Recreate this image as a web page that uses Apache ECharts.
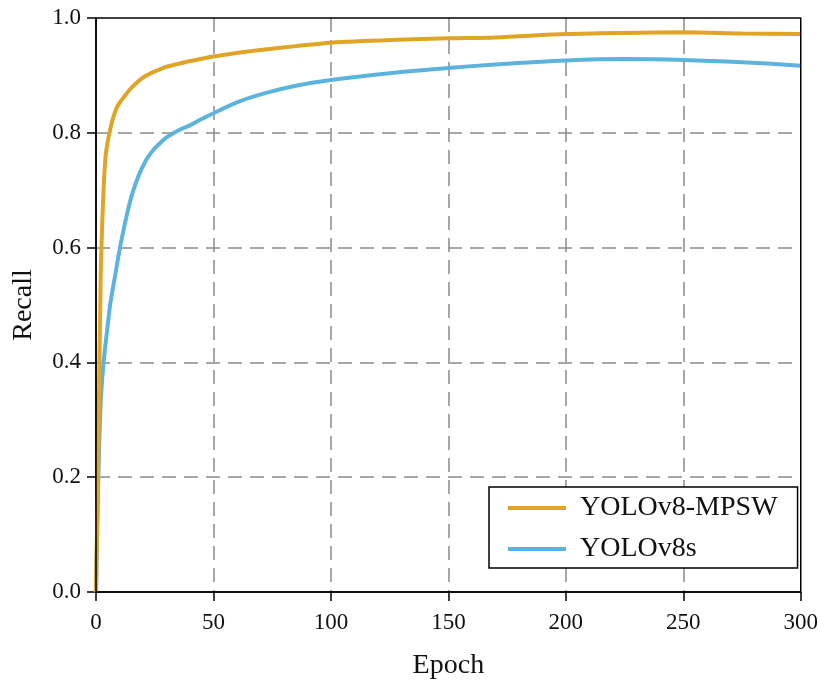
<!DOCTYPE html>
<html>
<head>
<meta charset="utf-8">
<script src="https://cdn.jsdelivr.net/npm/echarts@6/dist/echarts.min.js"></script>
<style>
html,body{margin:0;padding:0;background:#fff;}
#chart{width:821px;height:686px;}
</style>
</head>
<body>
<div id="chart"></div>
<script>
const epochs = [0,1,2,3,4,5,6,7,8,9,10,12,15,18,20,22,25,28,30,35,40,45,50,60,72,85,100,128,150,170,200,225,250,275,300];
const mpsw   = [0,0.25,0.55,0.68,0.755,0.785,0.805,0.822,0.835,0.845,0.852,0.863,0.878,0.890,0.896,0.901,0.907,0.912,0.915,0.920,0.925,0.929,0.933,0.939,0.945,0.951,0.957,0.962,0.9646,0.966,0.972,0.974,0.975,0.973,0.972];
const v8s    = [0,0.2,0.33,0.39,0.43,0.465,0.5,0.525,0.548,0.572,0.595,0.636,0.688,0.724,0.742,0.757,0.773,0.785,0.792,0.804,0.813,0.824,0.834,0.853,0.869,0.882,0.892,0.905,0.913,0.919,0.926,0.9286,0.927,0.923,0.917];
const seriesNames = ['YOLOv8-MPSW','YOLOv8s'];
const colors = ['#E0A526','#5CB4DE'];

const FONT = "'Liberation Serif','Times New Roman',serif";
const chart = echarts.init(document.getElementById('chart'));
const mk = (arr) => epochs.map((e,i)=>[e,arr[i]]);
chart.setOption({
  animation:false,
  backgroundColor:'#fff',
  grid:{left:96,top:18,right:14,bottom:94,show:true,borderColor:'#000',borderWidth:1.5,backgroundColor:'transparent',z:5},
  legend:{
    orient:'vertical', left:489, top:487,
    data:seriesNames,
    icon:'rect', itemWidth:58, itemHeight:4, itemGap:13,
    padding:[7,20,5,19],
    borderColor:'#000', borderWidth:1.5, backgroundColor:'#fff',
    textStyle:{fontFamily:FONT,fontSize:28,color:'#111',padding:[0,0,0,9]}
  },
  xAxis:{
    type:'value',min:0,max:300,interval:50,
    name:'Epoch',nameLocation:'middle',nameGap:60,
    nameTextStyle:{fontFamily:FONT,fontSize:28,color:'#111'},
    axisLine:{lineStyle:{color:'#000',width:1.5}},
    axisTick:{show:true,inside:false,length:9,lineStyle:{color:'#000',width:1.5}},
    axisLabel:{fontFamily:FONT,fontSize:23,color:'#111',margin:19},
    splitLine:{show:true,showMinLine:false,showMaxLine:false,lineStyle:{color:'#8a8a8a',width:1.5,type:[14,8]}}
  },
  yAxis:{
    type:'value',min:0,max:1,interval:0.2,
    name:'Recall',nameLocation:'middle',nameGap:58,
    nameTextStyle:{fontFamily:FONT,fontSize:28,color:'#111'},
    axisLine:{lineStyle:{color:'#000',width:1.5}},
    axisTick:{show:true,inside:false,length:9,lineStyle:{color:'#000',width:1.5}},
    axisLabel:{fontFamily:FONT,fontSize:23,color:'#111',margin:15,formatter:v=>v.toFixed(1)},
    splitLine:{show:true,showMinLine:false,showMaxLine:false,lineStyle:{color:'#8a8a8a',width:1.5,type:[14,8]}}
  },
  series:[
    {name:seriesNames[1],type:'line',data:mk(v8s),smooth:0.3,symbol:'none',lineStyle:{color:colors[1],width:4},itemStyle:{color:colors[1]},z:2},
    {name:seriesNames[0],type:'line',data:mk(mpsw),smooth:0.3,symbol:'none',lineStyle:{color:colors[0],width:4},itemStyle:{color:colors[0]},z:3}
  ]
});
</script>
</body>
</html>
